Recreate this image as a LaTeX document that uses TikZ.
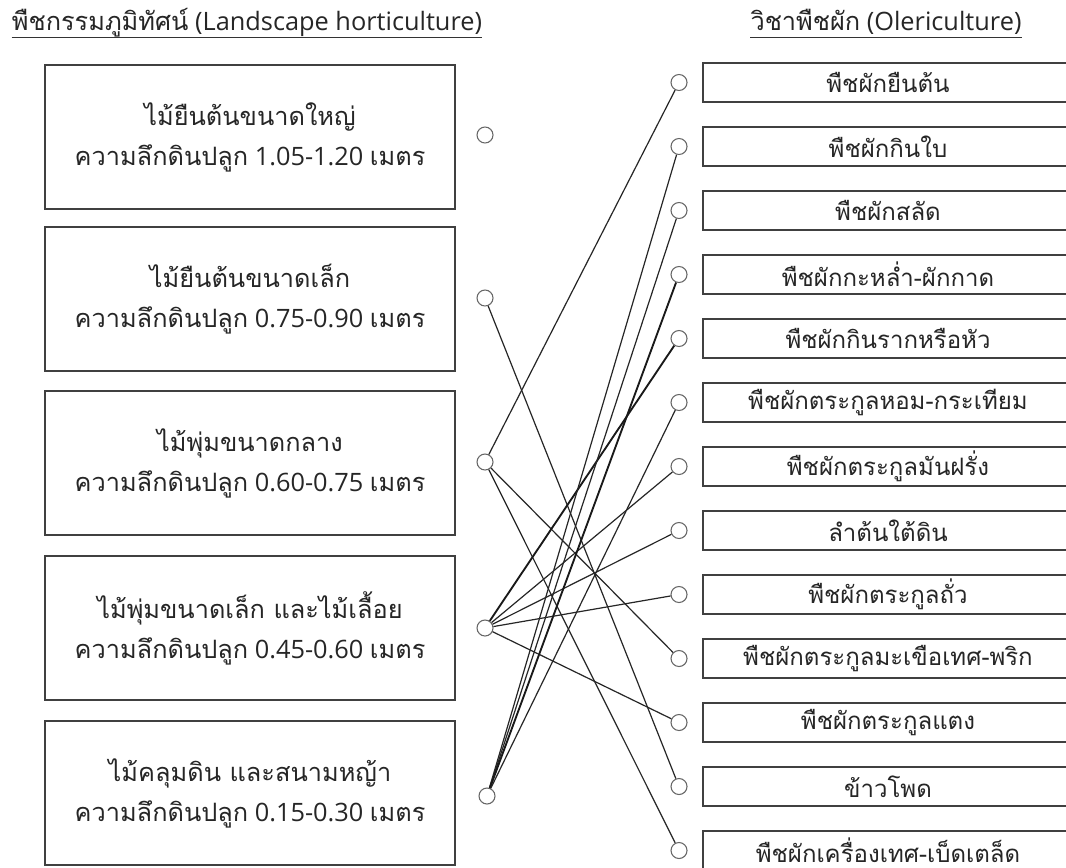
\documentclass[tikz,border=0pt]{standalone}
\usepackage{fontspec}
\setmainfont{Open Sans}
\newfontfamily\thai[Script=Thai]{Loma}
\begin{document}
\begin{tikzpicture}[x=0.75pt,y=-0.75pt,
  txt/.style={font=\fontsize{19}{30}\selectfont, text=black!85},
  rtxt/.style={font=\fontsize{18}{24}\selectfont, text=black!85},
  lbox/.style={txt, draw=black!75, line width=1.1pt, minimum width=307.5pt, minimum height=108pt, align=center, inner sep=0pt},
  rbox/.style={rtxt, draw=black!75, line width=1.1pt, minimum width=277.5pt, minimum height=29.5pt, inner sep=0pt},
  dot/.style={circle, draw=black!60, fill=white, line width=0.8pt, minimum size=12pt, inner sep=0pt},
  link/.style={draw=black!85, line width=0.9pt},
  heavy/.style={draw=black!90, line width=1.4pt},
  title/.style={txt, anchor=base, inner sep=0pt},
  uline/.style={draw=black!80, line width=0.9pt}]
\clip (0,0) rectangle (1066,867);
\fill[white] (0,0) rectangle (1066,867);

% titles
\node[title] (t1) at (247,31) {{\thai พืชกรรมภูมิทัศน์} (Landscape horticulture)};
\node[title] (t2) at (886,31) {{\thai วิชาพืชผัก} (Olericulture)};
\draw[uline] ([yshift=-5pt]t1.base west) -- ([yshift=-5pt]t1.base east);
\draw[uline] ([yshift=-5pt]t2.base west) -- ([yshift=-5pt]t2.base east);

% left boxes
\node[lbox] (l1) at (250,137) {{\thai ไม้ยืนต้นขนาดใหญ่}\\{\thai ความลึกดินปลูก} 1.05-1.20 {\thai เมตร}};
\node[lbox] (l2) at (250,299) {{\thai ไม้ยืนต้นขนาดเล็ก}\\{\thai ความลึกดินปลูก} 0.75-0.90 {\thai เมตร}};
\node[lbox] (l3) at (250,463) {{\thai ไม้พุ่มขนาดกลาง}\\{\thai ความลึกดินปลูก} 0.60-0.75 {\thai เมตร}};
\node[lbox] (l4) at (250,628) {{\thai ไม้พุ่มขนาดเล็ก และไม้เลื้อย}\\{\thai ความลึกดินปลูก} 0.45-0.60 {\thai เมตร}};
\node[lbox] (l5) at (250,793) {{\thai ไม้คลุมดิน และสนามหญ้า}\\{\thai ความลึกดินปลูก} 0.15-0.30 {\thai เมตร}};

% left dots
\node[dot] (a1) at (485,135) {};
\node[dot] (a2) at (485,298) {};
\node[dot] (a3) at (485,462) {};
\node[dot] (a4) at (485,628) {};
\node[dot] (a5) at (487,796) {};

% right boxes
\foreach \i/\t in {1/พืชผักยืนต้น,2/พืชผักกินใบ,3/พืชผักสลัด,4/พืชผักกะหล่ำ-ผักกาด,5/พืชผักกินรากหรือหัว,6/พืชผักตระกูลหอม-กระเทียม,7/พืชผักตระกูลมันฝรั่ง,8/ลำต้นใต้ดิน,9/พืชผักตระกูลถั่ว,10/พืชผักตระกูลมะเขือเทศ-พริก,11/พืชผักตระกูลแตง,12/ข้าวโพด,13/พืชผักเครื่องเทศ-เบ็ดเตล็ด}{
  \node[rbox] (r\i) at (888,{82.5+64*(\i-1)}) {\thai \t};
  \node[dot] (b\i) at (679,{82.5+64*(\i-1)}) {};
}

% connectors
\draw[link] (a2) -- (b12);
\draw[link] (a3) -- (b1);
\draw[link] (a3) -- (b10);
\draw[link] (a3) -- (b13);
\draw[heavy] (a4) -- (b5);
\draw[link] (a4) -- (b7);
\draw[link] (a4) -- (b8);
\draw[link] (a4) -- (b9);
\draw[link] (a4) -- (b11);
\draw[link] (a5) -- (b2);
\draw[link] (a5) -- (b3);
\draw[heavy] (a5) -- (b4);
\draw[link] (a5) -- (b6);
\end{tikzpicture}
\end{document}
